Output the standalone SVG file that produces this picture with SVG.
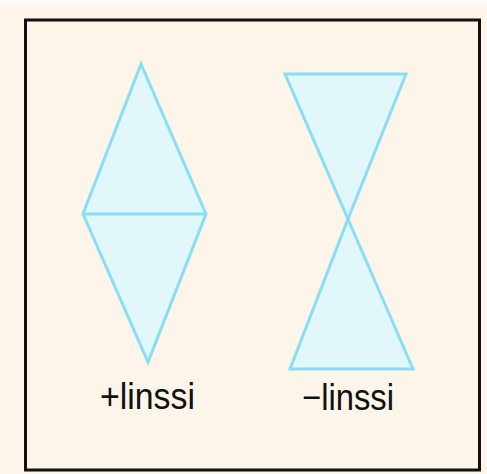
<svg xmlns="http://www.w3.org/2000/svg" width="487" height="474" viewBox="0 0 487 474">
<style>
.lens{fill:#e2f7fa;stroke:#88dff5;stroke-width:3;stroke-linejoin:miter}
.lbl{font-family:"Liberation Sans",Arial,sans-serif;font-size:37px;fill:#111}
</style>
<rect x="0" y="0" width="487" height="474" fill="#fdf5e9"/>
<rect x="0" y="0" width="487" height="5" fill="#fdfaf5"/>
<rect id="frame" x="25.5" y="20" width="454" height="450" fill="#fdf5e9" stroke="#111" stroke-width="3"/>
<g id="plus-lens">
<polygon class="lens" points="141,64 206,214 148,362 83,214"/>
<line class="lens" x1="83" y1="214" x2="206" y2="214"/>
</g>
<g id="minus-lens">
<polygon class="lens" points="285,74 406,74 348,219"/>
<polygon class="lens" points="348,219 413,369 290,369"/>
</g>
<g id="labels">
<text class="lbl" x="100" y="409" textLength="95" lengthAdjust="spacingAndGlyphs">+linssi</text>
<text class="lbl" x="302" y="410" textLength="92" lengthAdjust="spacingAndGlyphs">−linssi</text>
</g>
</svg>
